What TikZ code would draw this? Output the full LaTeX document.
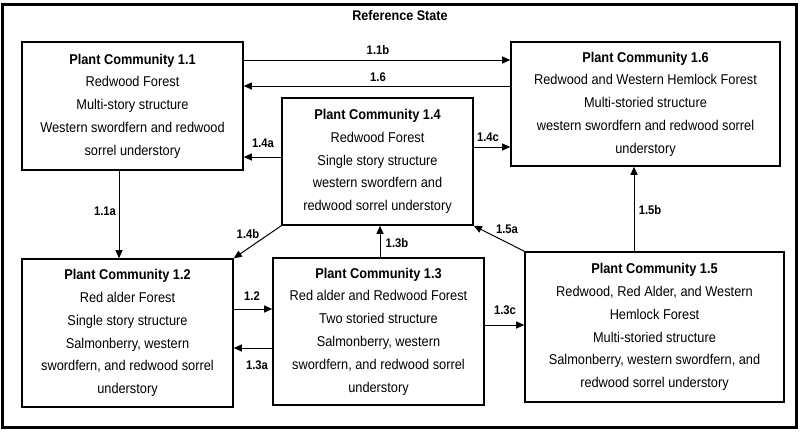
\documentclass[tikz,border=0pt]{standalone}
\usepackage{fontspec}
\setmainfont[FakeStretch=0.9]{Liberation Sans}
\usetikzlibrary{arrows.meta}
\tikzset{
  pcbox/.style={draw, line width=1.6pt, align=center, inner sep=0pt,
    font=\fontsize{14.2}{22.8}\selectfont},
  arr/.style={line width=1pt, -{Triangle[length=8pt,width=7pt]}},
  lbl/.style={font=\bfseries\fontsize{12.5}{14}\selectfont, inner sep=0pt},
}
\begin{document}
\begin{tikzpicture}[x=1pt,y=-1pt]
\useasboundingbox (0,0) rectangle (800,432);
\draw[line width=3pt] (2.5,4.5) rectangle (796.5,427.5);
\node[font=\bfseries\fontsize{14}{16}\selectfont] (title) at (400,15) {Reference State};

\node[pcbox, minimum width=221pt, minimum height=128pt] (n11) at (132.5,106)
 {\textbf{Plant Community 1.1}\\Redwood Forest\\Multi-story structure\\Western swordfern and redwood\\sorrel understory};
\node[pcbox, minimum width=269pt, minimum height=124pt] (n16) at (645.5,104)
 {\textbf{Plant Community 1.6}\\Redwood and Western Hemlock Forest\\Multi-storied structure\\western swordfern and redwood sorrel\\understory};
\node[pcbox, minimum width=191pt, minimum height=127pt] (n14) at (377.5,161.5)
 {\textbf{Plant Community 1.4}\\Redwood Forest\\Single story structure\\western swordfern and\\redwood sorrel understory};
\node[pcbox, minimum width=211pt, minimum height=148pt] (n12) at (127.5,333)
 {\textbf{Plant Community 1.2}\\Red alder Forest\\Single story structure\\Salmonberry, western\\swordfern, and redwood sorrel\\understory};
\node[pcbox, minimum width=211pt, minimum height=147pt] (n13) at (378.5,331.5)
 {\textbf{Plant Community 1.3}\\Red alder and Redwood Forest\\Two storied structure\\Salmonberry, western\\swordfern, and redwood sorrel\\understory};
\node[pcbox, minimum width=259pt, minimum height=150pt] (n15) at (654.5,327)
 {\textbf{Plant Community 1.5}\\Redwood, Red Alder, and Western\\Hemlock Forest\\Multi-storied structure\\Salmonberry, western swordfern, and\\redwood sorrel understory};

\draw[arr] (n11.east |- 0,60) -- (n16.west |- 0,60);
\draw[arr] (n16.west |- 0,86) -- (n11.east |- 0,86);
\draw[arr] (n14.west |- 0,157) -- (n11.east |- 0,157);
\draw[arr] (n14.east |- 0,147) -- (n16.west |- 0,147);
\draw[arr] (n11.south -| 119,0) -- (n12.north -| 119,0);
\draw[arr] (n14.south west) -- (n12.north east);
\draw[arr] (n13.north -| 380,0) -- (n14.south -| 380,0);
\draw[arr] (n15.north west) -- (n14.south east);
\draw[arr] (n15.north -| 634,0) -- (n16.south -| 634,0);
\draw[arr] (n12.east |- 0,309) -- (n13.west |- 0,309);
\draw[arr] (n13.west |- 0,348) -- (n12.east |- 0,348);
\draw[arr] (n13.east |- 0,325) -- (n15.west |- 0,325);

\node[lbl] (l11b) at (378,50) {1.1b};
\node[lbl] (l16) at (378,77) {1.6};
\node[lbl] (l14a) at (263,143) {1.4a};
\node[lbl] (l14c) at (488,137) {1.4c};
\node[lbl] (l11a) at (105,211) {1.1a};
\node[lbl] (l14b) at (248,234) {1.4b};
\node[lbl] (l13b) at (397,243) {1.3b};
\node[lbl] (l15a) at (507,229) {1.5a};
\node[lbl] (l15b) at (650,210) {1.5b};
\node[lbl] (l12) at (252,296) {1.2};
\node[lbl] (l13a) at (257,365) {1.3a};
\node[lbl] (l13c) at (505,310) {1.3c};
\end{tikzpicture}
\end{document}
